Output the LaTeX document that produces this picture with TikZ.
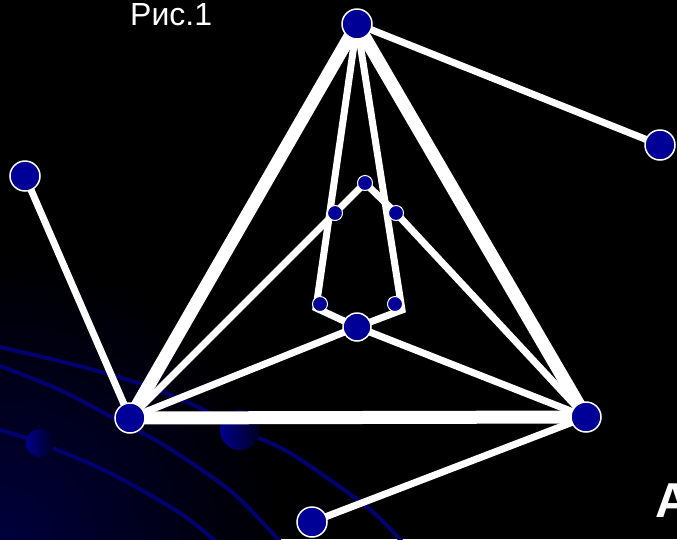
\documentclass[tikz,border=0pt]{standalone}
\usepackage{fontspec}
\setmainfont{Liberation Sans}
\definecolor{nodeblue}{RGB}{0,0,150}
\definecolor{swirlblue}{RGB}{0,0,110}
\definecolor{glowblue}{RGB}{0,0,60}
\definecolor{blobA}{RGB}{0,0,140}
\definecolor{blobB}{RGB}{0,0,30}
\begin{document}
\begin{tikzpicture}[x=1pt,y=-1pt,
  big/.style={circle,fill=nodeblue,draw=white,line width=1.5pt,minimum size=30pt,inner sep=0pt},
  mid/.style={big,minimum size=28pt},
  small/.style={circle,fill=nodeblue,draw=white,line width=1pt,minimum size=15pt,inner sep=0pt},
  thinl/.style={draw=white,line width=7pt},
  thickl/.style={draw=white,line width=13pt},
  swirl/.style={draw=swirlblue,line width=4pt},
  lbl/.style={text=white,inner sep=0pt,anchor=base west}]
\useasboundingbox (0,0) rectangle (677,539);
\clip (0,0) rectangle (677,539);
\fill[black] (0,0) rectangle (677,539);
\shade[inner color=glowblue,outer color=black] (0,539) circle (280pt);
% background swirls
\draw[swirl] plot[smooth] coordinates {(0,347) (83,367) (150,387) (200,408) (240,430) (290,453) (367,507) (405,545)};
\draw[swirl] plot[smooth] coordinates {(0,366) (60,390) (117,420) (167,447) (233,493) (283,545)};
\draw[swirl] plot[smooth] coordinates {(0,430) (40,443) (110,473) (180,513) (220,545)};
\shade[left color=blobA,right color=blobB] (240,430) circle (20pt);
\shade[left color=blobA,right color=blobB] (40,443) circle (14pt);
% node positions
\coordinate (pT) at (357,24);
\coordinate (pR) at (660,145);
\coordinate (pL) at (25,176);
\coordinate (pBL) at (130,418);
\coordinate (pBR) at (586,417);
\coordinate (pC) at (357,327);
\coordinate (pB) at (312,522);
\coordinate (pST) at (365,183);
\coordinate (pSL) at (335,213);
\coordinate (pSR) at (396,213);
\coordinate (kl) at (316,308);
\coordinate (kr) at (402,310);
% thick triangle
\draw[thickl,line cap=round] (pT) -- (pBL);
\draw[thickl,line cap=round] (pT) -- (pBR);
\draw[thickl] (pBL) -- (pBR);
% thin edges
\draw[thinl] (pT) -- (pR);
\draw[thinl] (pL) -- (pBL);
\draw[thinl] (pBR) -- (pB);
\draw[thinl] (pBL) -- (pC);
\draw[thinl] (pBR) -- (pC);
\draw[thinl,line join=miter] (pT) -- (kl) -- (pC);
\draw[thinl,line join=miter] (pT) -- (kr) -- (pC);
\draw[thinl] (pBL) -- (pSL);
\draw[thinl] (pBR) -- (pSR);
\draw[thinl,line join=round] (pSL) -- (pST) -- (pSR);
% nodes
\node[big] (T) at (pT) {};
\node[big] (R) at (pR) {};
\node[big] (L) at (pL) {};
\node[big] (BL) at (pBL) {};
\node[big] (BR) at (pBR) {};
\node[big] (B) at (pB) {};
\node[mid] (C) at (pC) {};
\node[small] (ST) at (pST) {};
\node[small] (SL) at (pSL) {};
\node[small] (SR) at (pSR) {};
\node[small] (SBL) at (320,304) {};
\node[small] (SBR) at (395,304) {};
% texts
\node[lbl,font=\fontsize{32}{32}\selectfont] (cap) at (130,25) {Рис.1};
\node[lbl,font=\fontsize{49}{49}\selectfont\bfseries] (A) at (655,517) {А};
\end{tikzpicture}
\end{document}
